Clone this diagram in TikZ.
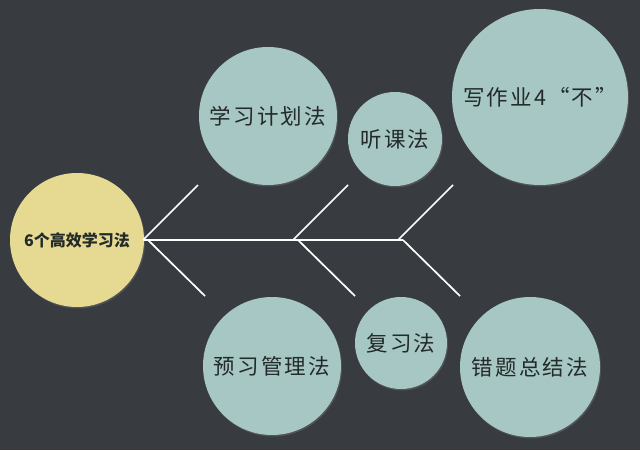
\documentclass[tikz,border=0pt]{standalone}
\usepackage{fontspec}
\usepackage{tikz}
\usetikzlibrary{shadows}
\newfontfamily\cjkmethod[LetterSpace=10]{Noto Sans CJK SC}
\newfontfamily\cjkhub{Noto Sans CJK SC}
\definecolor{bgdark}{HTML}{383C41}
\definecolor{hubyellow}{HTML}{E6DA92}
\definecolor{methodteal}{HTML}{A6C7C3}
\definecolor{inkdark}{HTML}{232A2A}

\begin{document}
\begin{tikzpicture}[x=1pt,y=-1pt]
    \tikzstyle{hub}=[shape=circle,fill=hubyellow,minimum size=134pt,inner sep=0pt,text=inkdark,font=\cjkhub\bfseries\fontsize{16}{16}\selectfont,drop shadow={shadow xshift=1pt,shadow yshift=-1.5pt,opacity=0.35}]
    \tikzstyle{method}=[shape=circle,fill=methodteal,inner sep=0pt,text=inkdark,font=\cjkmethod\fontsize{21.5}{21.5}\selectfont,drop shadow={shadow xshift=1pt,shadow yshift=-1.5pt,opacity=0.35}]
    \tikzstyle{bone}=[draw=white,line width=1.7pt]

    % background
    \fill[bgdark] (0,0) rectangle (640,450);

    \node[hub] (hub) at (77,240) {6个高效学习法};

    \node[method,minimum size=138pt] (plan) at (268,116) {学习计划法};
    \node[method,minimum size=94pt] (listen) at (395,139) {听课法};
    \node[method,minimum size=176pt] (homework) at (540,97) {写作业4“不”};
    \node[method,minimum size=138pt] (preview) at (272,366) {预习管理法};
    \node[method,minimum size=92pt] (review) at (401,343) {复习法};
    \node[method,minimum size=140pt] (mistakes) at (530,367) {错题总结法};

    % spine and bones
    \coordinate (tail) at (403,240);
    \path[bone] (hub.east) -- (tail);
    \foreach \x/\n in {143/a,293/b,398/c} {
        \coordinate (up\n) at (\x,240);
        \coordinate (upend\n) at (\x+55,185);
        \coordinate (lo\n) at (\x+5,240);
        \coordinate (loend\n) at (\x+62,296);
        \path[bone] (up\n) -- (upend\n);
        \path[bone] (lo\n) -- (loend\n);
    }
\end{tikzpicture}
\end{document}
